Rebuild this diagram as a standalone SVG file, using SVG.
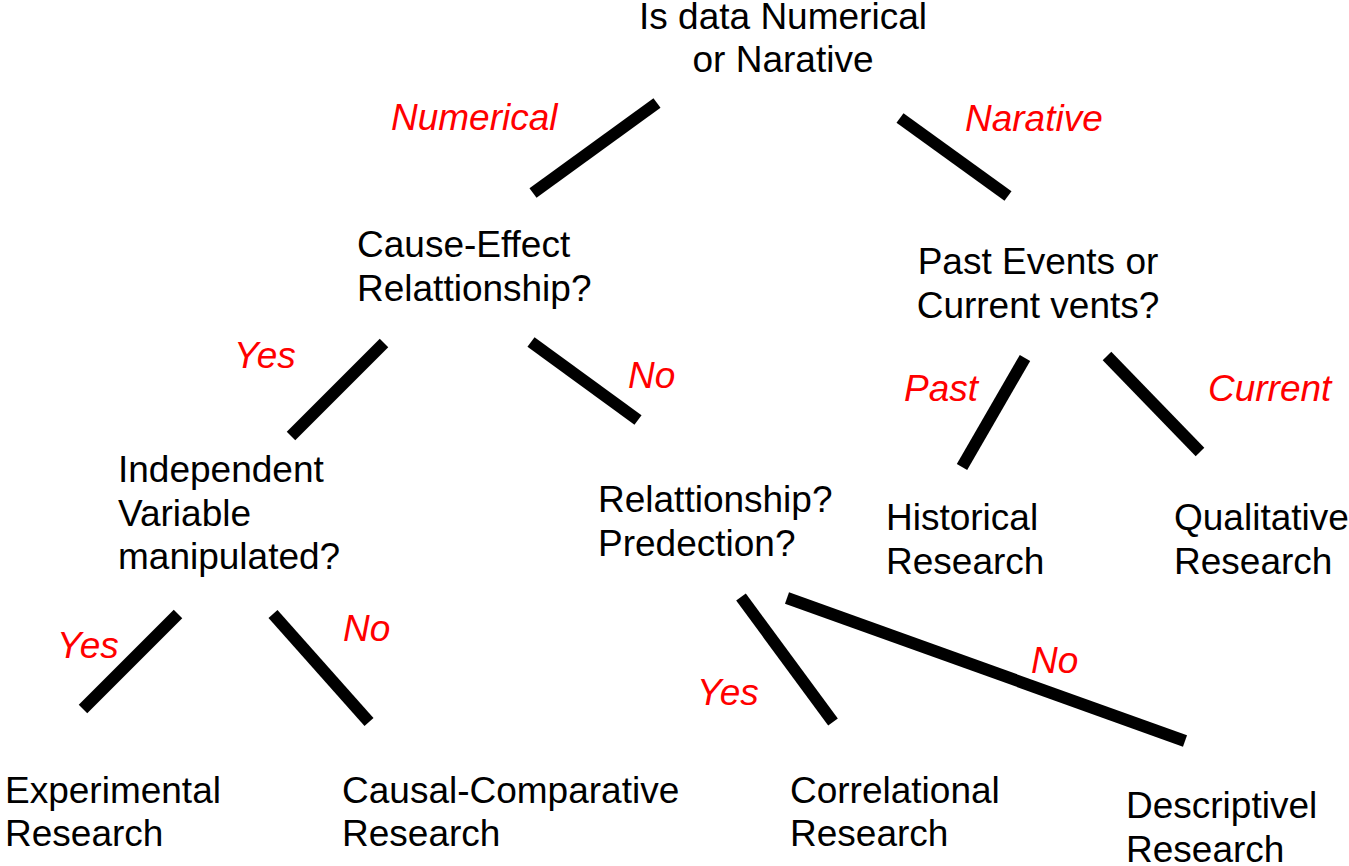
<svg xmlns="http://www.w3.org/2000/svg" width="1349" height="866" viewBox="0 0 1349 866">
<style>
.t{font-family:"Liberation Sans",Arial,sans-serif;font-size:37px;fill:#000}
.c{text-anchor:middle}
.l{font-family:"Liberation Sans",Arial,sans-serif;font-size:37px;font-style:italic;fill:#ff0000}
.e{stroke:#000;stroke-width:12;stroke-linecap:butt;fill:none}
</style>
<rect width="1349" height="866" fill="#fff"/>
<g id="connectors">
<line class="e" x1="533" y1="193" x2="657" y2="103"/>
<line class="e" x1="900" y1="118" x2="1008" y2="196"/>
<line class="e" x1="384" y1="343" x2="291" y2="436"/>
<line class="e" x1="531" y1="342" x2="638" y2="420"/>
<line class="e" x1="1025" y1="358" x2="962" y2="467"/>
<line class="e" x1="1107" y1="356" x2="1200" y2="452"/>
<line class="e" x1="178" y1="614" x2="83" y2="709"/>
<line class="e" x1="273" y1="614" x2="369" y2="722"/>
<line class="e" x1="741" y1="597" x2="833" y2="722"/>
<line class="e" x1="787" y1="598" x2="1185" y2="741"/>
</g>
<g id="labels">
<text class="l" x="391" y="130">Numerical</text>
<text class="l" x="965" y="131">Narative</text>
<text class="l" x="234" y="368">Yes</text>
<text class="l" x="628" y="388">No</text>
<text class="l" x="904" y="401">Past</text>
<text class="l" x="1208" y="401">Current</text>
<text class="l" x="57" y="658">Yes</text>
<text class="l" x="343" y="641">No</text>
<text class="l" x="697" y="705">Yes</text>
<text class="l" x="1031" y="673">No</text>
</g>
<g id="root"><text class="t c" x="783" y="29">Is data Numerical</text><text class="t c" x="783" y="72">or Narative</text></g>
<g id="cause-effect"><text class="t" x="357" y="257">Cause-Effect</text><text class="t" x="357" y="301">Relattionship?</text></g>
<g id="past-current"><text class="t c" x="1038" y="274">Past Events or</text><text class="t c" x="1038" y="318">Current vents?</text></g>
<g id="independent"><text class="t" x="118" y="482">Independent</text><text class="t" x="118" y="526">Variable</text><text class="t" x="118" y="569">manipulated?</text></g>
<g id="relationship"><text class="t" x="598" y="512">Relattionship?</text><text class="t" x="598" y="556">Predection?</text></g>
<g id="historical"><text class="t" x="886" y="530">Historical</text><text class="t" x="886" y="574">Research</text></g>
<g id="qualitative"><text class="t" x="1174" y="530">Qualitative</text><text class="t" x="1174" y="574">Research</text></g>
<g id="experimental"><text class="t" x="5" y="803">Experimental</text><text class="t" x="5" y="846">Research</text></g>
<g id="causal"><text class="t" x="342" y="803">Causal-Comparative</text><text class="t" x="342" y="846">Research</text></g>
<g id="correlational"><text class="t" x="790" y="803">Correlational</text><text class="t" x="790" y="846">Research</text></g>
<g id="descriptive"><text class="t" x="1126" y="818">Descriptivel</text><text class="t" x="1126" y="862">Research</text></g>
</svg>
